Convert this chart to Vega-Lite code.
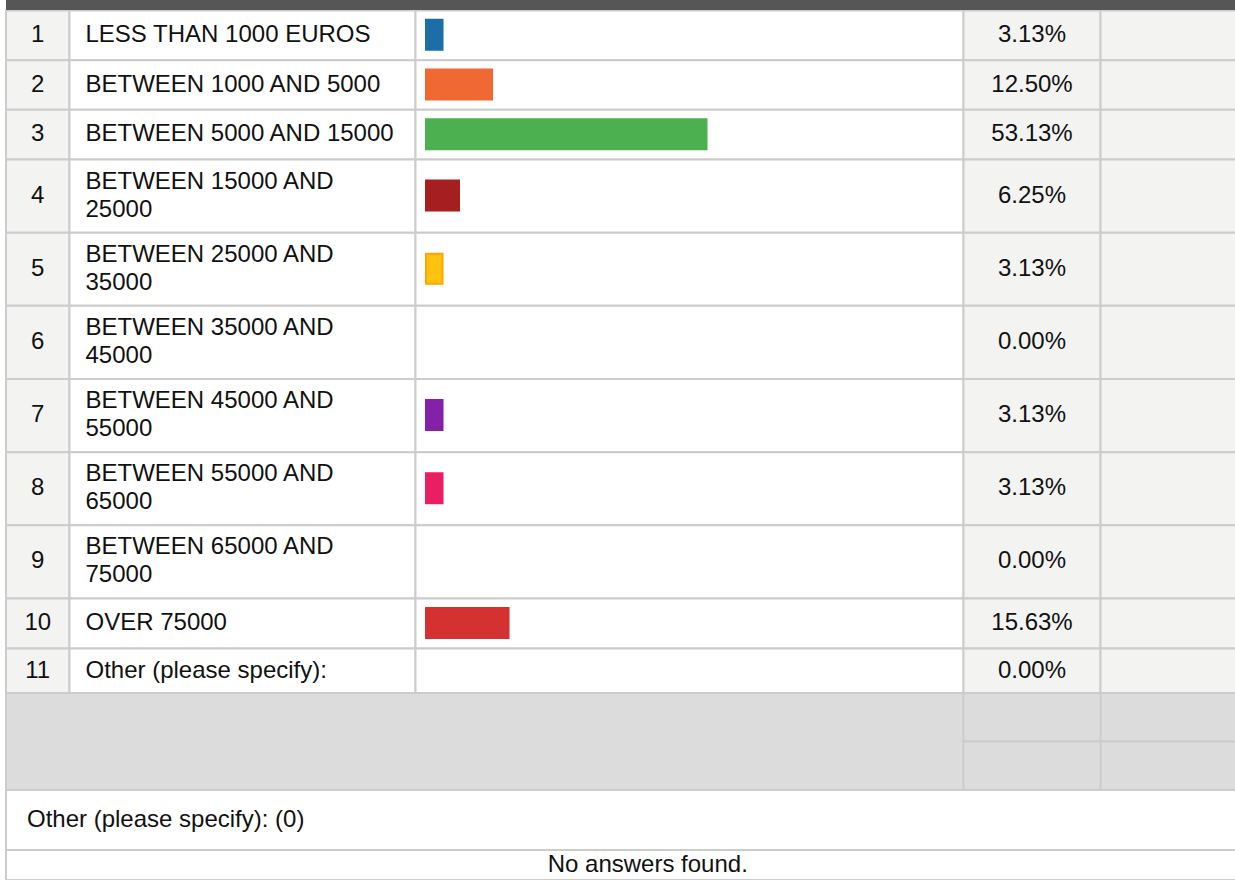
{
  "$schema": "https://vega.github.io/schema/vega-lite/v6.json",
  "width": 1235,
  "height": 880,
  "padding": 0,
  "autosize": {"type": "none"},
  "background": "#ffffff",
  "config": {
    "view": {"stroke": null},
    "axis": {"disable": true},
    "legend": {"disable": true},
    "scale": {"continuousPadding": 0},
    "text": {"font": "Liberation Sans", "fontSize": 24, "color": "#111111"}
  },
  "data": {
    "values": [
      {"row": 1, "label": "LESS THAN 1000 EUROS", "pct": 0.0313},
      {"row": 2, "label": "BETWEEN 1000 AND 5000", "pct": 0.125},
      {"row": 3, "label": "BETWEEN 5000 AND 15000", "pct": 0.5313},
      {"row": 4, "label": "BETWEEN 15000 AND\n25000", "pct": 0.0625},
      {"row": 5, "label": "BETWEEN 25000 AND\n35000", "pct": 0.0313},
      {"row": 6, "label": "BETWEEN 35000 AND\n45000", "pct": 0},
      {"row": 7, "label": "BETWEEN 45000 AND\n55000", "pct": 0.0313},
      {"row": 8, "label": "BETWEEN 55000 AND\n65000", "pct": 0.0313},
      {"row": 9, "label": "BETWEEN 65000 AND\n75000", "pct": 0},
      {"row": 10, "label": "OVER 75000", "pct": 0.1563},
      {"row": 11, "label": "Other (please specify):", "pct": 0}
    ]
  },
  "layer": [
    {
      "mark": {"type": "rect", "fill": "#f3f3f2", "stroke": "#cccccc", "strokeWidth": 2},
      "encoding": {
        "y": {"field": "row", "type": "quantitative", "bin": {"extent": [0.5, 11.5], "step": 1, "nice": false}, "scale": {"domain": [0.5,3.5,9.5,10.5,11.5,12.5,13.5,14.5], "range": [10,159,598,648,693,790,850,880], "nice": false, "zero": false, "padding": 0}},
        "x": {"datum": -3, "scale": {"domain": [-3,-2,-1,0,1,2,3,4], "range": [6,69.5,415.5,426,954,963.5,1100.5,1237], "nice": false, "zero": false, "padding": 0}},
        "x2": {"datum": -2}
      }
    },
    {
      "mark": {"type": "rect", "fill": "#ffffff", "stroke": "#cccccc", "strokeWidth": 2},
      "encoding": {
        "y": {"field": "row", "type": "quantitative", "bin": {"extent": [0.5, 11.5], "step": 1, "nice": false}, "scale": {"domain": [0.5,3.5,9.5,10.5,11.5,12.5,13.5,14.5], "range": [10,159,598,648,693,790,850,880], "nice": false, "zero": false, "padding": 0}},
        "x": {"datum": -2, "scale": {"domain": [-3,-2,-1,0,1,2,3,4], "range": [6,69.5,415.5,426,954,963.5,1100.5,1237], "nice": false, "zero": false, "padding": 0}},
        "x2": {"datum": -1}
      }
    },
    {
      "mark": {"type": "rect", "fill": "#ffffff", "stroke": "#cccccc", "strokeWidth": 2},
      "encoding": {
        "y": {"field": "row", "type": "quantitative", "bin": {"extent": [0.5, 11.5], "step": 1, "nice": false}, "scale": {"domain": [0.5,3.5,9.5,10.5,11.5,12.5,13.5,14.5], "range": [10,159,598,648,693,790,850,880], "nice": false, "zero": false, "padding": 0}},
        "x": {"datum": -1, "scale": {"domain": [-3,-2,-1,0,1,2,3,4], "range": [6,69.5,415.5,426,954,963.5,1100.5,1237], "nice": false, "zero": false, "padding": 0}},
        "x2": {"datum": 2}
      }
    },
    {
      "mark": {"type": "rect", "fill": "#f3f3f2", "stroke": "#cccccc", "strokeWidth": 2},
      "encoding": {
        "y": {"field": "row", "type": "quantitative", "bin": {"extent": [0.5, 11.5], "step": 1, "nice": false}, "scale": {"domain": [0.5,3.5,9.5,10.5,11.5,12.5,13.5,14.5], "range": [10,159,598,648,693,790,850,880], "nice": false, "zero": false, "padding": 0}},
        "x": {"datum": 2, "scale": {"domain": [-3,-2,-1,0,1,2,3,4], "range": [6,69.5,415.5,426,954,963.5,1100.5,1237], "nice": false, "zero": false, "padding": 0}},
        "x2": {"datum": 3}
      }
    },
    {
      "mark": {"type": "rect", "fill": "#f3f3f2", "stroke": "#cccccc", "strokeWidth": 2},
      "encoding": {
        "y": {"field": "row", "type": "quantitative", "bin": {"extent": [0.5, 11.5], "step": 1, "nice": false}, "scale": {"domain": [0.5,3.5,9.5,10.5,11.5,12.5,13.5,14.5], "range": [10,159,598,648,693,790,850,880], "nice": false, "zero": false, "padding": 0}},
        "x": {"datum": 3, "scale": {"domain": [-3,-2,-1,0,1,2,3,4], "range": [6,69.5,415.5,426,954,963.5,1100.5,1237], "nice": false, "zero": false, "padding": 0}},
        "x2": {"datum": 4}
      }
    },
    {
      "data": {"values": [{}]},
      "mark": {"type": "rect", "fill": "#555655"},
      "encoding": {
        "y": {"datum": 0.5, "scale": {"domain": [0.5,3.5,9.5,10.5,11.5,12.5,13.5,14.5], "range": [10,159,598,648,693,790,850,880], "nice": false, "zero": false, "padding": 0}},
        "y2": {"value": 0},
        "x": {"datum": -3, "scale": {"domain": [-3,-2,-1,0,1,2,3,4], "range": [6,69.5,415.5,426,954,963.5,1100.5,1237], "nice": false, "zero": false, "padding": 0}},
        "x2": {"datum": 4}
      }
    },
    {
      "data": {"values": [{}]},
      "mark": {"type": "rect", "fill": "#dcdcdc", "stroke": "#cccccc", "strokeWidth": 2},
      "encoding": {
        "y": {"datum": 11.5, "scale": {"domain": [0.5,3.5,9.5,10.5,11.5,12.5,13.5,14.5], "range": [10,159,598,648,693,790,850,880], "nice": false, "zero": false, "padding": 0}},
        "y2": {"datum": 12.5},
        "x": {"datum": -3, "scale": {"domain": [-3,-2,-1,0,1,2,3,4], "range": [6,69.5,415.5,426,954,963.5,1100.5,1237], "nice": false, "zero": false, "padding": 0}},
        "x2": {"datum": 4}
      }
    },
    {
      "data": {"values": [{}]},
      "mark": {"type": "rect", "fill": "#dcdcdc", "stroke": "#cccccc", "strokeWidth": 2},
      "encoding": {
        "y": {"datum": 11.5, "scale": {"domain": [0.5,3.5,9.5,10.5,11.5,12.5,13.5,14.5], "range": [10,159,598,648,693,790,850,880], "nice": false, "zero": false, "padding": 0}},
        "y2": {"datum": 12},
        "x": {"datum": 2, "scale": {"domain": [-3,-2,-1,0,1,2,3,4], "range": [6,69.5,415.5,426,954,963.5,1100.5,1237], "nice": false, "zero": false, "padding": 0}},
        "x2": {"datum": 4}
      }
    },
    {
      "data": {"values": [{}]},
      "mark": {"type": "rect", "fill": "#dcdcdc", "stroke": "#cccccc", "strokeWidth": 2},
      "encoding": {
        "y": {"datum": 12, "scale": {"domain": [0.5,3.5,9.5,10.5,11.5,12.5,13.5,14.5], "range": [10,159,598,648,693,790,850,880], "nice": false, "zero": false, "padding": 0}},
        "y2": {"datum": 12.5},
        "x": {"datum": 2, "scale": {"domain": [-3,-2,-1,0,1,2,3,4], "range": [6,69.5,415.5,426,954,963.5,1100.5,1237], "nice": false, "zero": false, "padding": 0}},
        "x2": {"datum": 4}
      }
    },
    {
      "data": {"values": [{}]},
      "mark": {"type": "rule", "stroke": "#cccccc", "strokeWidth": 2},
      "encoding": {
        "y": {"datum": 11.5, "scale": {"domain": [0.5,3.5,9.5,10.5,11.5,12.5,13.5,14.5], "range": [10,159,598,648,693,790,850,880], "nice": false, "zero": false, "padding": 0}},
        "y2": {"datum": 12.5},
        "x": {"datum": 3, "scale": {"domain": [-3,-2,-1,0,1,2,3,4], "range": [6,69.5,415.5,426,954,963.5,1100.5,1237], "nice": false, "zero": false, "padding": 0}}
      }
    },
    {
      "data": {"values": [{}]},
      "mark": {"type": "rect", "fill": "#ffffff", "stroke": "#cccccc", "strokeWidth": 2},
      "encoding": {
        "y": {"datum": 12.5, "scale": {"domain": [0.5,3.5,9.5,10.5,11.5,12.5,13.5,14.5], "range": [10,159,598,648,693,790,850,880], "nice": false, "zero": false, "padding": 0}},
        "y2": {"datum": 13.5},
        "x": {"datum": -3, "scale": {"domain": [-3,-2,-1,0,1,2,3,4], "range": [6,69.5,415.5,426,954,963.5,1100.5,1237], "nice": false, "zero": false, "padding": 0}},
        "x2": {"datum": 4}
      }
    },
    {
      "data": {"values": [{}]},
      "mark": {"type": "rect", "fill": "#ffffff", "stroke": "#cccccc", "strokeWidth": 2},
      "encoding": {
        "y": {"datum": 13.5, "scale": {"domain": [0.5,3.5,9.5,10.5,11.5,12.5,13.5,14.5], "range": [10,159,598,648,693,790,850,880], "nice": false, "zero": false, "padding": 0}},
        "y2": {"datum": 14.5},
        "x": {"datum": -3, "scale": {"domain": [-3,-2,-1,0,1,2,3,4], "range": [6,69.5,415.5,426,954,963.5,1100.5,1237], "nice": false, "zero": false, "padding": 0}},
        "x2": {"datum": 4}
      }
    },
    {
      "transform": [{"filter": "datum.pct > 0"}],
      "mark": {"type": "bar", "orient": "horizontal", "strokeWidth": 2},
      "encoding": {
        "y": {"field": "row", "type": "quantitative", "scale": {"domain": [0.5,3.5,9.5,10.5,11.5,12.5,13.5,14.5], "range": [10,159,598,648,693,790,850,880], "nice": false, "zero": false, "padding": 0}},
        "x": {"field": "pct", "type": "quantitative", "scale": {"domain": [-3,-2,-1,0,1,2,3,4], "range": [6,69.5,415.5,426,954,963.5,1100.5,1237], "nice": false, "zero": false, "padding": 0}},
        "x2": {"datum": 0},
        "size": {"value": 30},
        "color": {"field": "row", "type": "nominal", "scale": {"domain": [1,2,3,4,5,7,8,10], "range": ["#1c6ea6", "#f06933", "#4caf50", "#a51e20", "#ffc20e", "#8421a8", "#ea1f63", "#d53131"]}},
        "stroke": {"field": "row", "type": "nominal", "scale": {"domain": [1,2,3,4,5,7,8,10], "range": ["#1c6ea6", "#f06933", "#4caf50", "#a51e20", "#ffa500", "#8421a8", "#ea1f63", "#d53131"]}}
      }
    },
    {
      "mark": {"type": "text", "align": "center", "baseline": "middle"},
      "encoding": {
        "y": {"field": "row", "type": "quantitative", "scale": {"domain": [0.5,3.5,9.5,10.5,11.5,12.5,13.5,14.5], "range": [10,159,598,648,693,790,850,880], "nice": false, "zero": false, "padding": 0}},
        "x": {"datum": -2.5, "scale": {"domain": [-3,-2,-1,0,1,2,3,4], "range": [6,69.5,415.5,426,954,963.5,1100.5,1237], "nice": false, "zero": false, "padding": 0}},
        "text": {"field": "row", "type": "nominal"}
      }
    },
    {
      "transform": [{"filter": "indexof(datum.label, '\\n') < 0"}],
      "mark": {"type": "text", "align": "left", "baseline": "middle", "dx": 16},
      "encoding": {
        "y": {"field": "row", "type": "quantitative", "scale": {"domain": [0.5,3.5,9.5,10.5,11.5,12.5,13.5,14.5], "range": [10,159,598,648,693,790,850,880], "nice": false, "zero": false, "padding": 0}},
        "x": {"datum": -2, "scale": {"domain": [-3,-2,-1,0,1,2,3,4], "range": [6,69.5,415.5,426,954,963.5,1100.5,1237], "nice": false, "zero": false, "padding": 0}},
        "text": {"field": "label", "type": "nominal"}
      }
    },
    {
      "transform": [{"filter": "indexof(datum.label, '\\n') >= 0"}],
      "mark": {"type": "text", "align": "left", "baseline": "middle", "dx": 16, "dy": -14, "lineBreak": "\n", "lineHeight": 28},
      "encoding": {
        "y": {"field": "row", "type": "quantitative", "scale": {"domain": [0.5,3.5,9.5,10.5,11.5,12.5,13.5,14.5], "range": [10,159,598,648,693,790,850,880], "nice": false, "zero": false, "padding": 0}},
        "x": {"datum": -2, "scale": {"domain": [-3,-2,-1,0,1,2,3,4], "range": [6,69.5,415.5,426,954,963.5,1100.5,1237], "nice": false, "zero": false, "padding": 0}},
        "text": {"field": "label", "type": "nominal"}
      }
    },
    {
      "mark": {"type": "text", "align": "center", "baseline": "middle"},
      "encoding": {
        "y": {"field": "row", "type": "quantitative", "scale": {"domain": [0.5,3.5,9.5,10.5,11.5,12.5,13.5,14.5], "range": [10,159,598,648,693,790,850,880], "nice": false, "zero": false, "padding": 0}},
        "x": {"datum": 2.5, "scale": {"domain": [-3,-2,-1,0,1,2,3,4], "range": [6,69.5,415.5,426,954,963.5,1100.5,1237], "nice": false, "zero": false, "padding": 0}},
        "text": {"field": "pct", "type": "quantitative", "format": ".2%"}
      }
    },
    {
      "data": {"values": [{"note": "Other (please specify): (0)"}]},
      "mark": {"type": "text", "align": "left", "baseline": "middle", "dx": 21},
      "encoding": {
        "y": {"datum": 13, "scale": {"domain": [0.5,3.5,9.5,10.5,11.5,12.5,13.5,14.5], "range": [10,159,598,648,693,790,850,880], "nice": false, "zero": false, "padding": 0}},
        "x": {"datum": -3, "scale": {"domain": [-3,-2,-1,0,1,2,3,4], "range": [6,69.5,415.5,426,954,963.5,1100.5,1237], "nice": false, "zero": false, "padding": 0}},
        "text": {"field": "note", "type": "nominal"}
      }
    },
    {
      "data": {"values": [{"note": "No answers found."}]},
      "mark": {"type": "text", "align": "center", "baseline": "middle"},
      "encoding": {
        "y": {"datum": 14, "scale": {"domain": [0.5,3.5,9.5,10.5,11.5,12.5,13.5,14.5], "range": [10,159,598,648,693,790,850,880], "nice": false, "zero": false, "padding": 0}},
        "x": {"datum": 0.42, "scale": {"domain": [-3,-2,-1,0,1,2,3,4], "range": [6,69.5,415.5,426,954,963.5,1100.5,1237], "nice": false, "zero": false, "padding": 0}},
        "text": {"field": "note", "type": "nominal"}
      }
    }
  ]
}
